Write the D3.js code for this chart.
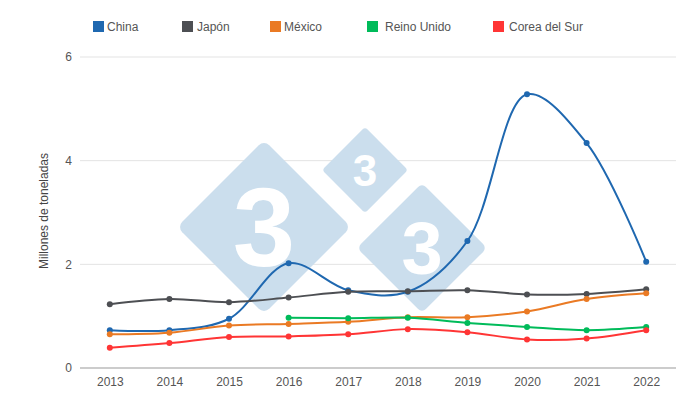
<!DOCTYPE html>
<html><head><meta charset="utf-8">
<script src="https://cdn.jsdelivr.net/npm/d3@7"></script>
<style>body{margin:0;background:#fff}svg{font-family:"Liberation Sans",Arial,sans-serif}</style>
</head><body><svg id="c" width="700" height="400"></svg>
<script>
const years = [2013,2014,2015,2016,2017,2018,2019,2020,2021,2022];
const china = [0.73,0.73,0.95,2.02,1.50,1.47,2.45,5.28,4.34,2.05];
const japon = [1.23,1.33,1.27,1.36,1.47,1.48,1.50,1.42,1.43,1.52];
const mexico = [0.65,0.68,0.82,0.85,0.89,0.98,0.98,1.09,1.33,1.44];
const reinoUnido = [null,null,null,0.97,0.96,0.97,0.87,0.79,0.73,0.79];
const corea = [0.39,0.48,0.60,0.61,0.65,0.75,0.69,0.55,0.57,0.73];
const seriesNames = ["China","Japón","México","Reino Unido","Corea del Sur"];
const seriesColors = ["#1f68b0","#4d4f53","#ea7a24","#00bb5a","#ff3535"];
const yTicks = [0,2,4,6];

const series = [china,japon,mexico,reinoUnido,corea];
const svg = d3.select("#c");
const x = d3.scalePoint().domain(years).range([80,676]).padding(0.5);
const y = d3.scaleLinear().domain([0,6]).range([368,57]);

// gridlines
svg.append("g").selectAll("line").data(yTicks.filter(d=>d>0)).join("line")
  .attr("x1",80).attr("x2",676).attr("y1",d=>y(d)).attr("y2",d=>y(d))
  .attr("stroke","#e3e3e3").attr("stroke-width",1);

// watermark
const wm = svg.append("g");
const diamonds = [{cx:264,cy:227,r:87,f:112},{cx:365,cy:170,r:43,f:44},{cx:422,cy:248,r:65,f:74}];
diamonds.forEach(d=>{
  const s = d.r*Math.SQRT2;
  wm.append("rect").attr("x",-s/2).attr("y",-s/2).attr("width",s).attr("height",s)
    .attr("rx",s*0.06).attr("fill","#cbdeed")
    .attr("transform",`translate(${d.cx},${d.cy}) rotate(45)`);
  wm.append("text").attr("x",d.cx).attr("y",d.cy).attr("text-anchor","middle")
    .attr("dominant-baseline","central").attr("font-size",d.f).attr("font-weight","bold")
    .attr("font-family","Arial, 'Liberation Sans', sans-serif")
    .attr("fill","#fff").text("3");
});

// axes
const xa = svg.append("g").attr("transform","translate(0,368)")
  .call(d3.axisBottom(x).tickSize(0).tickPadding(9));
xa.select(".domain").attr("stroke","#999").attr("d","M80,0H676");
xa.selectAll("text").attr("fill","#555").attr("font-size",12);

const ya = svg.append("g").attr("transform","translate(80,0)")
  .call(d3.axisLeft(y).tickValues(yTicks).tickFormat(d3.format("d")).tickSize(0).tickPadding(8));
ya.select(".domain").remove();
ya.selectAll("text").attr("fill","#555").attr("font-size",12);

svg.append("text").attr("transform","translate(44,211) rotate(-90)").attr("text-anchor","middle")
  .attr("dominant-baseline","central")
  .attr("font-size",12).attr("fill","#444").text("Millones de toneladas");

// lines
const line = d3.line().defined(d=>d[1]!=null).x(d=>x(d[0])).y(d=>y(d[1])).curve(d3.curveCatmullRom.alpha(0.5));
series.forEach((s,i)=>{
  const pts = years.map((yr,j)=>[yr,s[j]]);
  svg.append("path").datum(pts).attr("d",line).attr("fill","none")
    .attr("stroke",seriesColors[i]).attr("stroke-width",2);
  svg.append("g").selectAll("circle").data(pts.filter(p=>p[1]!=null)).join("circle")
    .attr("cx",p=>x(p[0])).attr("cy",p=>y(p[1])).attr("r",3).attr("fill",seriesColors[i]);
});

// legend
const legX = [93,182,270,367,493];
const legOff = [14,15,14,18,16];
const leg = svg.append("g");
seriesNames.forEach((n,i)=>{
  leg.append("rect").attr("x",legX[i]).attr("y",21).attr("width",11).attr("height",11).attr("fill",seriesColors[i]);
  leg.append("text").attr("x",legX[i]+legOff[i]).attr("y",27).attr("dominant-baseline","central")
    .attr("font-size",12).attr("fill","#555").text(n);
});
</script></body></html>
